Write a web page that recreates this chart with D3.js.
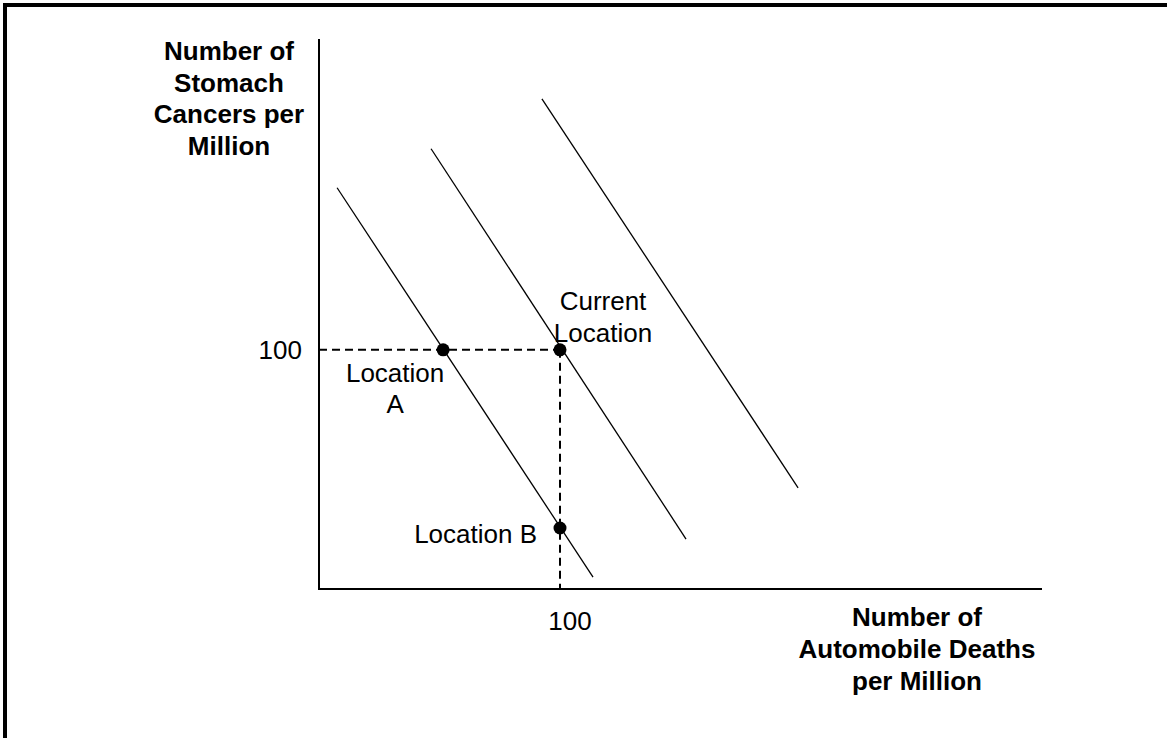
<!DOCTYPE html>
<html>
<head>
<meta charset="utf-8">
<script src="https://cdn.jsdelivr.net/npm/d3@7"></script>
<style>
html,body{margin:0;padding:0;background:#fff;}
svg{display:block;}
text{font-family:"Liberation Sans", Arial, sans-serif;fill:#000;}
</style>
</head>
<body>
<svg id="chart" width="1167" height="738"></svg>
<script>
// ---- data (axis units) ----
const xDomain = [0, 300];
const yDomain = [0, 230];
const tickValue = 100;
const tickLabels = ["100"];
// iso-lines: [x1, y1, x2, y2]
const isoLines = [
  [7.5, 167.8, 113.7, 5.0],
  [46.5, 184.1, 152.3, 20.9],
  [92.5, 205.0, 198.8, 42.3]
];
const pointNames = ["Location A", "Current Location", "Location B"];
const pointX = [51.5, 100, 100];
const pointY = [100, 100, 25.5];
const yTitle = ["Number of", "Stomach", "Cancers per", "Million"];
const xTitle = ["Number of", "Automobile Deaths", "per Million"];

const svg = d3.select("#chart");
const x = d3.scaleLinear().domain(xDomain).range([319, 1042]);
const y = d3.scaleLinear().domain(yDomain).range([589, 39]);

// frame (top and left only)
svg.append("line").attr("x1", 3).attr("x2", 1167).attr("y1", 5).attr("y2", 5)
  .attr("stroke", "#000").attr("stroke-width", 4);
svg.append("line").attr("x1", 5).attr("x2", 5).attr("y1", 3).attr("y2", 738)
  .attr("stroke", "#000").attr("stroke-width", 4);

// axes
svg.append("line").attr("x1", x(0)).attr("x2", x(0)).attr("y1", y(yDomain[1])).attr("y2", y(0) + 1)
  .attr("stroke", "#000").attr("stroke-width", 2);
svg.append("line").attr("x1", x(0) - 1).attr("x2", x(xDomain[1])).attr("y1", y(0)).attr("y2", y(0))
  .attr("stroke", "#000").attr("stroke-width", 2);

// iso lines
svg.selectAll("line.iso").data(isoLines).enter().append("line")
  .attr("class", "iso")
  .attr("x1", d => x(d[0])).attr("y1", d => y(d[1]))
  .attr("x2", d => x(d[2])).attr("y2", d => y(d[3]))
  .attr("stroke", "#000").attr("stroke-width", 1.3);

// dashed guides
svg.append("line").attr("x1", x(0)).attr("x2", x(pointX[1])).attr("y1", y(tickValue)).attr("y2", y(tickValue))
  .attr("stroke", "#000").attr("stroke-width", 2).attr("stroke-dasharray", "8,5");
svg.append("line").attr("x1", x(tickValue)).attr("x2", x(tickValue)).attr("y1", y(pointY[1])).attr("y2", y(0))
  .attr("stroke", "#000").attr("stroke-width", 2).attr("stroke-dasharray", "8,5");

// points
svg.selectAll("circle.pt").data(pointX).enter().append("circle")
  .attr("class", "pt")
  .attr("cx", (d, i) => x(d)).attr("cy", (d, i) => y(pointY[i]))
  .attr("r", 6.5).attr("fill", "#000");

// tick labels
svg.append("text").attr("x", x(0) - 17).attr("y", y(tickValue) + 9)
  .attr("text-anchor", "end").attr("font-size", 26).text(tickLabels[0]);
svg.append("text").attr("x", x(tickValue) + 10).attr("y", 630)
  .attr("text-anchor", "middle").attr("font-size", 26).text(tickLabels[0]);

// point labels
const fs = 26;
// Location A
const la = svg.append("text").attr("text-anchor", "middle").attr("font-size", fs);
la.append("tspan").attr("x", x(pointX[0]) - 48).attr("y", y(pointY[0]) + 32).text("Location");
la.append("tspan").attr("x", x(pointX[0]) - 48).attr("y", y(pointY[0]) + 63).text("A");
// Current Location
const lc = svg.append("text").attr("text-anchor", "middle").attr("font-size", fs);
lc.append("tspan").attr("x", x(pointX[1]) + 43).attr("y", y(pointY[1]) - 40).text("Current");
lc.append("tspan").attr("x", x(pointX[1]) + 43).attr("y", y(pointY[1]) - 8).text("Location");
// Location B
svg.append("text").attr("text-anchor", "end").attr("font-size", fs)
  .attr("x", x(pointX[2]) - 23).attr("y", y(pointY[2]) + 15).text(pointNames[2]);

// axis titles
const yt = svg.append("text").attr("text-anchor", "middle").attr("font-size", fs).attr("font-weight", "bold");
yTitle.forEach((t, i) => yt.append("tspan").attr("x", 229).attr("y", 60 + i * 31.7).text(t));
const xt = svg.append("text").attr("text-anchor", "middle").attr("font-size", fs).attr("font-weight", "bold");
xTitle.forEach((t, i) => xt.append("tspan").attr("x", 917).attr("y", 626 + i * 32).text(t));
</script>
</body>
</html>
